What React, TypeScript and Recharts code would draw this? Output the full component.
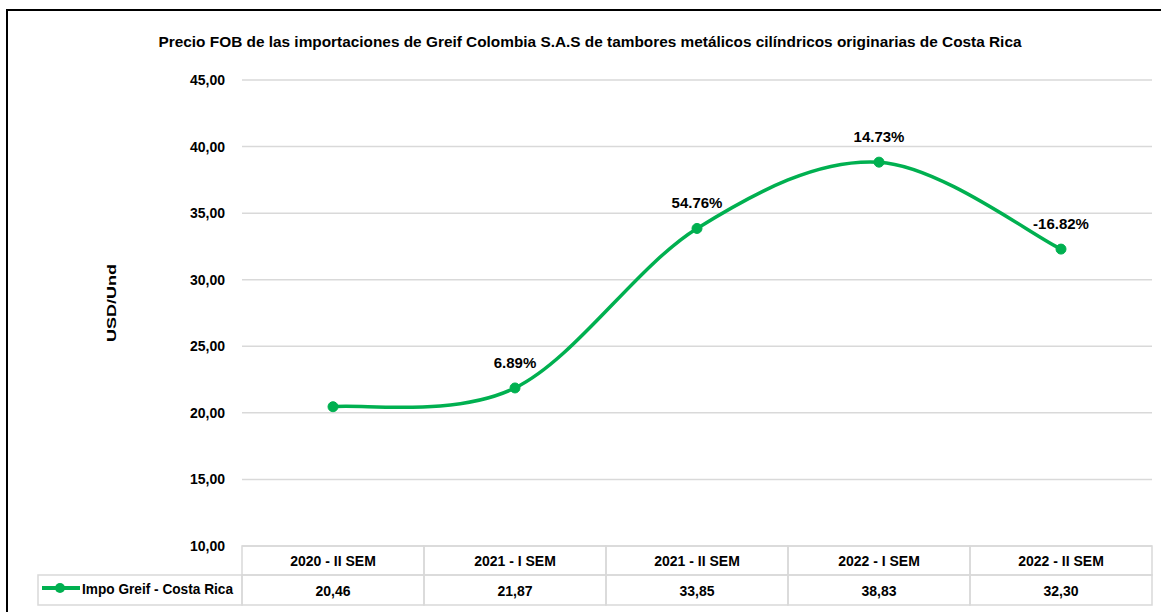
import React from 'react';
import { LineChart, Line, XAxis, YAxis, CartesianGrid, LabelList } from 'recharts';

const categories = ['2020 - II SEM', '2021 - I SEM', '2021 - II SEM', '2022 - I SEM', '2022 - II SEM'];
const values = [20.46, 21.87, 33.85, 38.83, 32.3];
const changes: (string | null)[] = [null, '6.89%', '54.76%', '14.73%', '-16.82%'];
const yTicks = [10, 15, 20, 25, 30, 35, 40, 45];
const seriesName = 'Impo Greif - Costa Rica';
const title = 'Precio FOB de las importaciones de Greif Colombia S.A.S de tambores metálicos cilíndricos  originarias de Costa Rica';
const yLabel = 'USD/Und';

const GREEN = '#00B050';
const FONT = '"Liberation Sans", Arial, sans-serif';
const COL_W = 182;

const data = categories.map((c, i) => ({ cat: c, value: values[i], change: changes[i] }));

const fmt = (v: number) => v.toFixed(2).replace('.', ',');

// Excel-like smoothing (Catmull-Rom style bezier)
const excelSmooth = (context: any) => {
  let xs: number[] = [];
  let ys: number[] = [];
  return {
    areaStart() {},
    areaEnd() {},
    lineStart() {
      xs = [];
      ys = [];
    },
    point(x: number, y: number) {
      xs.push(+x);
      ys.push(+y);
    },
    lineEnd() {
      const n = xs.length;
      if (!n) return;
      context.moveTo(xs[0], ys[0]);
      for (let i = 0; i < n - 1; i++) {
        const p0 = i > 0 ? i - 1 : i;
        const p3 = i + 2 < n ? i + 2 : i + 1;
        const c1x = xs[i] + (xs[i + 1] - xs[p0]) / 6;
        const c1y = ys[i] + (ys[i + 1] - ys[p0]) / 6;
        const c2x = xs[i + 1] - (xs[p3] - xs[i]) / 6;
        const c2y = ys[i + 1] - (ys[p3] - ys[i]) / 6;
        context.bezierCurveTo(c1x, c1y, c2x, c2y, xs[i + 1], ys[i + 1]);
      }
    },
  };
};

const TableTick = (props: any) => {
  const { x, y, payload } = props;
  const idx = payload.index;
  return (
    <g>
      <rect x={x - COL_W / 2} y={y} width={COL_W} height={29} fill="none" stroke="#d9d9d9" strokeWidth={1.5} />
      <rect x={x - COL_W / 2} y={y + 29} width={COL_W} height={30} fill="none" stroke="#d9d9d9" strokeWidth={1.5} />
      <text x={x} y={y + 20} textAnchor="middle" fontFamily={FONT} fontWeight="bold" fontSize={14} fill="#000">
        {payload.value}
      </text>
      <text x={x} y={y + 50} textAnchor="middle" fontFamily={FONT} fontWeight="bold" fontSize={14} fill="#000">
        {fmt(values[idx])}
      </text>
    </g>
  );
};

const PctLabel = (props: any) => {
  const { x, y, value } = props;
  if (value == null || value === '') return null;
  return (
    <text x={x} y={y - 20} textAnchor="middle" fontFamily={FONT} fontWeight="bold" fontSize={15} fill="#000">
      {value}
    </text>
  );
};

export default function App() {
  return (
    <div style={{ position: 'absolute', left: 0, top: 0, width: 1161, height: 612, overflow: 'hidden', background: '#fff' }}>
      <div
        style={{
          position: 'absolute',
          left: 6,
          top: 9,
          width: 1300,
          height: 800,
          border: '2px solid #000',
          boxSizing: 'border-box',
        }}
      />
      <div style={{ position: 'absolute', left: 0, top: 0 }}>
        <LineChart width={1161} height={612} data={data} margin={{ top: 80, right: 9, bottom: 0, left: 182 }}>
          <CartesianGrid vertical={false} stroke="#d9d9d9" strokeWidth={1.5} />
          <XAxis
            dataKey="cat"
            height={66}
            axisLine={false}
            tickLine={false}
            tickSize={0}
            tickMargin={0}
            interval={0}
            padding={{ left: COL_W / 2, right: COL_W / 2 }}
            tick={<TableTick />}
          />
          <YAxis
            width={60}
            domain={[10, 45]}
            ticks={yTicks}
            axisLine={false}
            tickLine={false}
            tickMargin={11}
            tickFormatter={(v: number) => fmt(v)}
            tick={{ fontFamily: FONT, fontWeight: 'bold', fontSize: 14, fill: '#000' }}
          />
          <Line
            dataKey="value"
            type={excelSmooth as any}
            stroke={GREEN}
            strokeWidth={3.5}
            dot={{ r: 5, fill: GREEN, stroke: GREEN, strokeWidth: 1 }}
            activeDot={false}
            isAnimationActive={false}
          >
            <LabelList dataKey="change" content={<PctLabel />} />
          </Line>
        </LineChart>
      </div>
      <svg width={1161} height={612} style={{ position: 'absolute', left: 0, top: 0, pointerEvents: 'none' }}>
        <text
          x={590}
          y={47}
          textAnchor="middle"
          fontFamily={FONT}
          fontWeight="bold"
          fontSize={15.5}
          fill="#000"
          textLength={863}
          lengthAdjust="spacingAndGlyphs"
        >
          {title}
        </text>
        <text
          x={0}
          y={0}
          transform="translate(116,303) rotate(-90)"
          textAnchor="middle"
          fontFamily={FONT}
          fontWeight="bold"
          fontSize={13}
          fill="#000"
          textLength={78}
          lengthAdjust="spacingAndGlyphs"
        >
          {yLabel}
        </text>
        <rect x={38} y={575} width={204} height={30} fill="none" stroke="#d9d9d9" strokeWidth={1.5} />
        <line x1={42} y1={588} x2={80} y2={588} stroke={GREEN} strokeWidth={4} />
        <circle cx={60} cy={588} r={5} fill={GREEN} />
        <text
          x={82}
          y={594}
          fontFamily={FONT}
          fontWeight="bold"
          fontSize={14}
          fill="#000"
          textLength={151}
          lengthAdjust="spacingAndGlyphs"
        >
          {seriesName}
        </text>
      </svg>
    </div>
  );
}
